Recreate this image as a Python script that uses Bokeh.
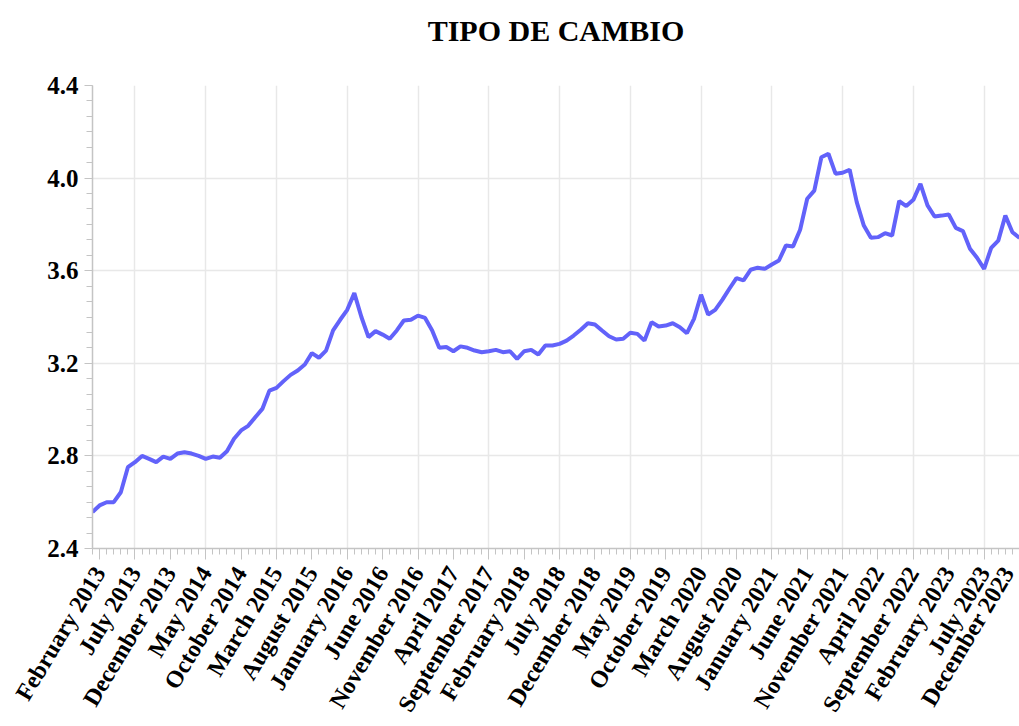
import pandas as pd
from bokeh.plotting import figure
from bokeh.models import (Range1d, FixedTicker, SingleIntervalTicker, PrintfTickFormatter,
                          Grid, ColumnDataSource)
from bokeh.embed import file_html
from bokeh.resources import INLINE

# ---- data ----
months = list(pd.date_range("2013-01-01", "2023-12-01", freq="MS").strftime("%B %Y"))

rate_2013 = [2.557, 2.586, 2.600, 2.600, 2.643, 2.751, 2.773, 2.800, 2.787, 2.773, 2.797, 2.787]
rate_2014 = [2.810, 2.816, 2.810, 2.800, 2.787, 2.797, 2.792, 2.820, 2.874, 2.910, 2.930, 2.967]
rate_2015 = [3.003, 3.082, 3.094, 3.123, 3.150, 3.169, 3.195, 3.244, 3.224, 3.255, 3.342, 3.388]
rate_2016 = [3.431, 3.503, 3.400, 3.313, 3.339, 3.324, 3.306, 3.342, 3.385, 3.388, 3.406, 3.396]
rate_2017 = [3.342, 3.267, 3.270, 3.252, 3.273, 3.267, 3.255, 3.248, 3.252, 3.258, 3.248, 3.252]
rate_2018 = [3.219, 3.252, 3.258, 3.238, 3.277, 3.277, 3.284, 3.298, 3.320, 3.345, 3.373, 3.368]
rate_2019 = [3.342, 3.317, 3.303, 3.306, 3.332, 3.327, 3.298, 3.378, 3.359, 3.363, 3.373, 3.356]
rate_2020 = [3.330, 3.392, 3.496, 3.411, 3.431, 3.474, 3.522, 3.568, 3.558, 3.604, 3.613, 3.608]
rate_2021 = [3.627, 3.644, 3.709, 3.705, 3.777, 3.911, 3.946, 4.090, 4.105, 4.019, 4.023, 4.036]
rate_2022 = [3.896, 3.795, 3.742, 3.745, 3.762, 3.752, 3.901, 3.879, 3.906, 3.975, 3.882, 3.834]
rate_2023 = [3.838, 3.843, 3.785, 3.771, 3.695, 3.656, 3.608, 3.699, 3.730, 3.838, 3.766, 3.742]

rates = (rate_2013 + rate_2014 + rate_2015 + rate_2016 + rate_2017 + rate_2018 +
         rate_2019 + rate_2020 + rate_2021 + rate_2022 + rate_2023)

title_text = "TIPO DE CAMBIO"

x_idx = list(range(len(months)))
label_idx = x_idx[1::5]            # February 2013, July 2013, ... December 2023
tick_labels = {i: months[i] for i in label_idx}
grid_idx = x_idx[6::10]            # vertical grid lines

FONT = "Liberation Serif"

p = figure(width=1019, height=726, output_backend="svg", toolbar_location=None,
           x_range=Range1d(0, len(months) - 1), y_range=Range1d(2.4, 4.4),
           min_border_left=92, min_border_right=0, min_border_top=85, min_border_bottom=0)

# trailing empty line gives the title panel extra height so the title sits higher
p.title.text = title_text + "\n"
p.title.text_font = FONT
p.title.text_font_style = "bold"
p.title.text_font_size = "30px"
p.title.text_color = "black"
p.title.align = "center"
p.title.vertical_align = "top"
p.title.standoff = 8

src = ColumnDataSource(dict(x=x_idx, y=rates))
p.line("x", "y", source=src, line_color="#6262fa", line_width=4)

p.outline_line_color = None
p.background_fill_color = "white"

# x axis
p.xaxis.ticker = FixedTicker(ticks=label_idx, minor_ticks=x_idx)
p.xaxis.major_label_overrides = tick_labels
p.xaxis.major_label_orientation = 1.03
p.xaxis.major_label_text_font = FONT
p.xaxis.major_label_text_font_style = "bold"
p.xaxis.major_label_text_font_size = "24px"
p.xaxis.major_label_text_color = "black"
p.xaxis.major_label_standoff = 9
p.xaxis.axis_line_color = "#c4c4c4"
p.xaxis.axis_line_width = 1.5
p.xaxis.major_tick_line_color = "#c4c4c4"
p.xaxis.minor_tick_line_color = "#c4c4c4"
p.xaxis.major_tick_out = 11
p.xaxis.major_tick_in = 0
p.xaxis.minor_tick_out = 6
p.xaxis.minor_tick_in = 0

# y axis
p.yaxis.ticker = SingleIntervalTicker(interval=0.4, num_minor_ticks=6)
p.yaxis.formatter = PrintfTickFormatter(format="%.1f")
p.yaxis.major_label_text_font = FONT
p.yaxis.major_label_text_font_style = "bold"
p.yaxis.major_label_text_font_size = "25px"
p.yaxis.major_label_text_color = "black"
p.yaxis.major_label_standoff = 6
p.yaxis.axis_line_color = "#c4c4c4"
p.yaxis.axis_line_width = 1.5
p.yaxis.major_tick_line_color = "#c4c4c4"
p.yaxis.minor_tick_line_color = "#c4c4c4"
p.yaxis.major_tick_out = 8
p.yaxis.major_tick_in = 0
p.yaxis.minor_tick_out = 6
p.yaxis.minor_tick_in = 0

# grids
p.xgrid.visible = False
p.ygrid.ticker = FixedTicker(ticks=[2.8, 3.2, 3.6, 4.0])
p.ygrid.grid_line_color = "#e8e8e8"
p.ygrid.grid_line_width = 1.5
vgrid = Grid(dimension=0, ticker=FixedTicker(ticks=grid_idx),
             grid_line_color="#e8e8e8", grid_line_width=1.5)
p.add_layout(vgrid)

open("out.html", "w").write(file_html(p, INLINE))
